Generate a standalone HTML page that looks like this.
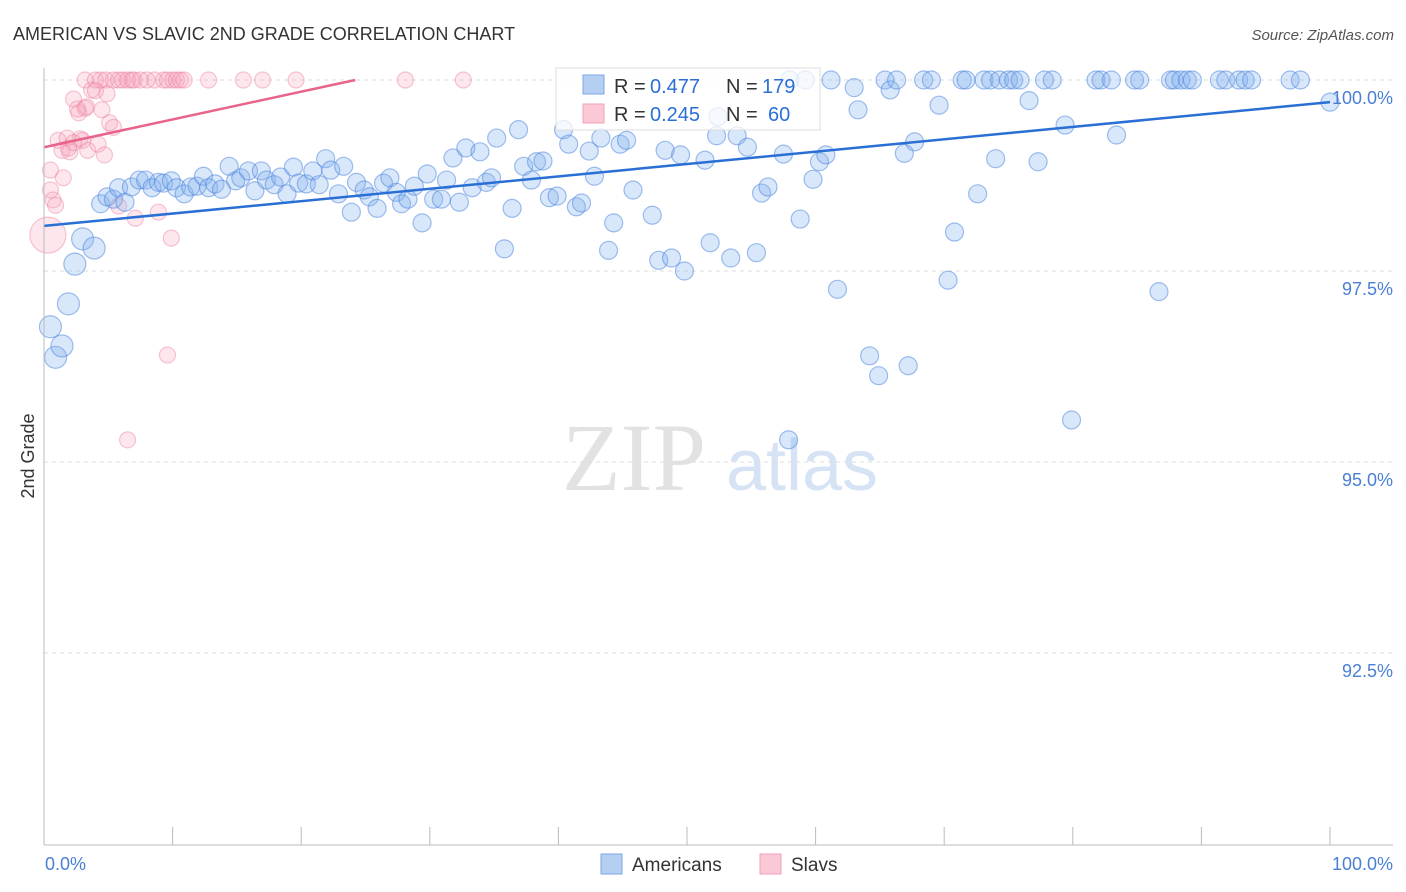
<!DOCTYPE html>
<html><head><meta charset="utf-8"><style>
body{margin:0;background:#fff;font-family:"Liberation Sans",sans-serif;}
#wrap{position:relative;width:1406px;height:892px;overflow:hidden;}
</style></head><body>
<div id="wrap">
<svg id="svg" width="1406" height="892" xmlns="http://www.w3.org/2000/svg">
<text x="13" y="40" font-size="18" fill="#333">AMERICAN VS SLAVIC 2ND GRADE CORRELATION CHART</text>
<text x="1394" y="40" font-size="15" fill="#555" font-style="italic" text-anchor="end">Source: ZipAtlas.com</text>
<text x="634" y="490" font-size="96" fill="#e2e2e2" font-family="Liberation Serif,serif" text-anchor="middle">ZIP</text>
<text x="802" y="490" font-size="72" fill="#d6e3f5" text-anchor="middle">atlas</text>
<g id="grid"></g><g id="pts"></g><g id="lines"></g><g id="axes"></g>
<text transform="translate(34,456) rotate(-90)" font-size="18" fill="#333" text-anchor="middle">2nd Grade</text>
<g>
<rect x="556" y="68" width="264" height="62" fill="rgba(255,255,255,0.75)" stroke="#ddd"/>
<rect x="583" y="75" width="21" height="19" fill="#b5cff3" stroke="#7da7e6"/>
<text x="614" y="93" font-size="20" fill="#333">R =</text>
<text x="650" y="93" font-size="20" fill="#2a6fd6">0.477</text>
<text x="726" y="93" font-size="20" fill="#333">N =</text>
<text x="762" y="93" font-size="20" fill="#2a6fd6">179</text>
<rect x="583" y="104" width="21" height="19" fill="#fbc9d6" stroke="#f0a0b8"/>
<text x="614" y="121" font-size="20" fill="#333">R =</text>
<text x="650" y="121" font-size="20" fill="#2a6fd6">0.245</text>
<text x="726" y="121" font-size="20" fill="#333">N =</text>
<text x="768" y="121" font-size="20" fill="#2a6fd6">60</text>
</g>
<g><rect x="601" y="854" width="21" height="20" fill="#b5cff3" stroke="#7da7e6"/><text x="632" y="871" font-size="19" fill="#333">Americans</text></g>
<g><rect x="760" y="854" width="21" height="20" fill="#fbc9d6" stroke="#f0a0b8"/><text x="791" y="871" font-size="19" fill="#333">Slavs</text></g>
</svg></div>
<script>
const yTicks=[100,97.5,95,92.5];
const yTickLabels=["100.0%","97.5%","95.0%","92.5%"];
const xTickLabels=["0.0%","100.0%"];
const blueX=[0.5,0.9,1.4,1.9,2.4,3.0,3.9,4.4,4.9,5.4,5.8,6.3,6.8,7.4,7.9,8.4,8.9,9.3,9.9,10.3,10.9,11.4,11.9,12.4,12.8,13.3,13.8,14.4,14.9,15.3,15.9,16.4,16.9,17.3,17.9,18.4,18.9,19.4,19.8,20.4,20.9,21.4,21.9,22.3,22.9,23.3,23.9,24.3,24.9,25.3,25.9,26.4,26.9,27.4,27.8,28.3,28.8,29.4,29.8,30.3,30.9,31.3,31.8,32.3,32.8,33.3,33.9,34.4,34.8,35.2,35.8,36.4,36.9,37.3,37.9,38.3,38.8,39.3,39.9,40.4,40.8,41.4,41.8,42.4,42.8,43.3,43.9,44.3,44.8,45.3,45.8,47.3,47.8,48.3,48.8,49.5,49.8,51.4,51.8,52.3,52.4,53.4,53.9,54.7,55.4,55.8,56.3,57.5,58.0,58.8,59.2,59.8,60.3,60.8,61.2,61.7,63.0,63.3,64.2,64.9,65.4,65.8,66.3,66.9,67.2,67.7,68.4,69.0,69.6,70.3,70.8,71.4,71.7,72.6,73.1,73.6,74.0,74.3,75.0,75.4,75.9,76.6,77.3,77.8,78.4,79.4,79.9,81.8,82.2,83.0,83.4,84.8,85.2,86.7,87.6,87.9,88.4,88.9,89.3,91.4,91.9,92.9,93.4,93.9,96.9,97.7,100,57.9];
const blueY=[96.77,96.37,96.52,97.07,97.59,97.92,97.80,98.38,98.47,98.44,98.59,98.40,98.60,98.69,98.69,98.59,98.66,98.65,98.68,98.59,98.51,98.60,98.61,98.74,98.59,98.64,98.57,98.87,98.68,98.72,98.81,98.55,98.81,98.69,98.63,98.73,98.51,98.86,98.65,98.64,98.81,98.63,98.97,98.82,98.51,98.87,98.27,98.66,98.56,98.47,98.32,98.65,98.72,98.53,98.38,98.44,98.61,98.13,98.77,98.44,98.44,98.69,98.98,98.40,99.11,98.59,99.06,98.66,98.72,99.24,97.79,98.32,99.35,98.87,98.69,98.93,98.94,98.46,98.48,99.35,99.16,98.34,98.39,99.07,98.74,99.24,97.77,98.13,99.16,99.21,98.56,98.23,97.64,99.08,97.67,99.02,97.50,98.95,97.87,99.27,99.52,97.67,99.27,99.12,97.74,98.52,98.60,99.03,100,98.18,100,98.70,98.93,99.02,100,97.26,99.90,99.61,96.39,96.13,100,99.87,100,99.04,96.26,99.19,100,100,99.67,97.38,98.01,100,100,98.51,100,100,98.97,100,100,100,100,99.73,98.93,100,100,99.41,95.55,100,100,100,99.28,100,100,97.23,100,100,100,100,100,100,100,100,100,100,100,100,99.71,95.29];
const pinkX=[3.2,4.0,4.4,4.8,5.4,5.8,6.1,6.5,6.8,7.0,7.5,8.0,8.6,9.3,9.6,10.0,10.3,10.6,10.9,12.8,15.5,17.0,19.6,28.1,32.6,2.3,2.7,3.2,3.7,4.0,4.9,4.5,3.3,2.6,5.1,5.4,1.1,1.8,1.4,2.0,2.8,3.4,4.2,4.7,1.9,0.5,0.5,0.7,0.9,1.5,5.8,7.1,8.9,9.9,0.3,9.6,6.5,3.0,2.3];
const pinkY=[100,100,100,100,100,100,100,100,100,100,100,100,100,100,100,100,100,100,100,100,100,100,100,100,100,99.75,99.57,99.63,99.87,99.86,99.82,99.61,99.65,99.62,99.44,99.38,99.21,99.24,99.08,99.06,99.23,99.08,99.16,99.02,99.11,98.82,98.56,98.43,98.36,98.72,98.35,98.19,98.27,97.93,97.97,96.40,95.29,99.21,99.18];
const blueTrend=[98.09,99.71];
const pinkTrend=[99.12,100,24.2];
const NS="http://www.w3.org/2000/svg";
const X=v=>44+v*12.86, Y=v=>80+(100-v)*76.4;
function mk(tag,at,parent){const e=document.createElementNS(NS,tag);for(const k in at)e.setAttribute(k,at[k]);document.getElementById(parent).appendChild(e);return e;}
yTicks.forEach((t,i)=>{
 const g=mk('line',{x1:44,x2:1393,y1:Y(t),y2:Y(t),stroke:'#ddd','stroke-dasharray':'4,4'},'grid');
 
 
 const l=mk('text',{x:1393,y:Y(t)+24,'font-size':18,fill:'#4a7fd4','text-anchor':'end'},'axes');l.textContent=yTickLabels[i];
 
 
});
mk('line',{x1:44,x2:44,y1:68,y2:845,stroke:'#bbb'},'axes');
mk('line',{x1:44,x2:1393,y1:845,y2:845,stroke:'#bbb'},'axes');
for(let i=0;i<=10;i++){const t=mk('line',{x1:X(i*10),x2:X(i*10),y1:827,y2:845,stroke:'#bbb'},'axes');
 
 }
[[0,'start',45],[100,'end',1393]].forEach((a,i)=>{const l=mk('text',{x:a[2],y:870,'font-size':18,fill:'#4a7fd4','text-anchor':a[1]},'axes');l.textContent=xTickLabels[i];
 
 });
pinkX.forEach((x,i)=>{const c=mk('circle',{cx:X(x),cy:Y(pinkY[i]),r:(x<0.4&&pinkY[i]<98)?18:8,fill:'rgba(248,160,185,0.25)',stroke:'rgba(236,130,160,0.45)','stroke-width':1.2},'pts');
 
 });
blueX.forEach((x,i)=>{const c=mk('circle',{cx:X(x),cy:Y(blueY[i]),r:x<4?11:9,fill:'rgba(130,175,240,0.3)',stroke:'rgba(70,130,220,0.5)','stroke-width':1.2},'pts');
 
 });
const bl=mk('line',{x1:X(0),y1:Y(blueTrend[0]),x2:X(100),y2:Y(blueTrend[1]),stroke:'#2a6fd6','stroke-width':2.5},'lines');


const pl=mk('line',{x1:X(0),y1:Y(pinkTrend[0]),x2:X(pinkTrend[2]),y2:Y(pinkTrend[1]),stroke:'#e8648a','stroke-width':2.5},'lines');


</script>
</body></html>
